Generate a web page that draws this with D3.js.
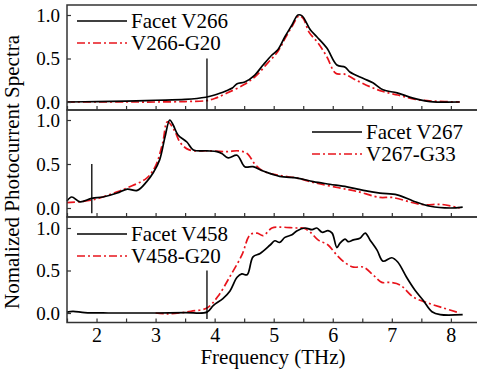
<!DOCTYPE html>
<html>
<head>
<meta charset="utf-8">
<script src="https://cdn.jsdelivr.net/npm/d3@7"></script>
<style>
  body { margin: 0; background: #fff; }
</style>
</head>
<body>
<svg id="chart" width="477" height="375"></svg>
<script>
// frequency (THz), normalized photocurrent
const facetV266 = [[1.5,0.0],[2.0,0.005],[2.5,0.01],[3.0,0.02],[3.5,0.03],[3.85,0.055],[4.0,0.08],[4.2,0.13],[4.3,0.16],[4.38,0.21],[4.51,0.23],[4.68,0.31],[4.82,0.425],[4.97,0.54],[5.07,0.6],[5.19,0.75],[5.31,0.885],[5.41,1.0],[5.48,0.99],[5.62,0.83],[5.73,0.75],[5.9,0.62],[6.07,0.425],[6.21,0.4],[6.29,0.345],[6.52,0.27],[6.68,0.22],[6.85,0.14],[7.09,0.105],[7.36,0.045],[7.65,0.005],[8.15,0.0]];
const v266G20 = [[1.5,0.0],[2.5,0.0],[3.0,0.0],[3.5,0.005],[3.85,0.015],[4.0,0.04],[4.2,0.1],[4.5,0.2],[4.7,0.3],[4.9,0.45],[5.07,0.58],[5.2,0.74],[5.32,0.88],[5.43,0.99],[5.5,0.96],[5.6,0.8],[5.75,0.68],[5.9,0.52],[6.05,0.33],[6.2,0.32],[6.4,0.25],[6.65,0.17],[6.85,0.12],[7.1,0.08],[7.4,0.03],[7.7,0.01],[8.15,0.0]];

const facetV267 = [[1.5,0.08],[1.58,0.125],[1.72,0.07],[1.92,0.11],[2.11,0.125],[2.35,0.17],[2.52,0.215],[2.69,0.2],[2.85,0.3],[2.96,0.4],[3.07,0.55],[3.16,0.81],[3.24,1.0],[3.3,0.94],[3.38,0.83],[3.53,0.75],[3.64,0.66],[3.87,0.65],[4.04,0.64],[4.12,0.62],[4.23,0.57],[4.38,0.6],[4.51,0.47],[4.65,0.47],[4.82,0.42],[5.1,0.36],[5.4,0.34],[5.67,0.3],[5.95,0.27],[6.24,0.24],[6.52,0.2],[6.8,0.17],[7.09,0.15],[7.36,0.08],[7.65,0.02],[7.99,0.0],[8.2,0.01]];
const v267G33 = [[1.5,0.06],[1.92,0.09],[2.35,0.185],[2.52,0.23],[2.85,0.34],[3.0,0.48],[3.12,0.74],[3.2,0.98],[3.32,0.88],[3.42,0.74],[3.57,0.66],[3.9,0.65],[4.2,0.64],[4.4,0.65],[4.55,0.62],[4.68,0.5],[4.82,0.42],[5.1,0.37],[5.4,0.34],[5.67,0.29],[6.1,0.23],[6.4,0.19],[6.8,0.12],[7.0,0.12],[7.5,0.04],[7.85,0.04],[8.15,0.0]];

const facetV458 = [[1.5,0.01],[1.6,0.02],[1.8,0.005],[2.2,0.0],[2.6,0.0],[3.0,0.0],[3.5,0.005],[3.87,0.01],[3.98,0.09],[4.14,0.17],[4.26,0.26],[4.38,0.42],[4.46,0.46],[4.55,0.45],[4.65,0.66],[4.77,0.7],[4.94,0.8],[5.02,0.85],[5.1,0.83],[5.19,0.89],[5.31,0.92],[5.39,0.965],[5.53,1.0],[5.65,0.98],[5.73,1.0],[5.82,0.95],[5.92,0.97],[5.99,0.94],[6.07,0.77],[6.12,0.82],[6.21,0.87],[6.26,0.84],[6.35,0.86],[6.46,0.88],[6.55,0.94],[6.63,0.86],[6.75,0.74],[6.85,0.61],[7.0,0.65],[7.1,0.6],[7.25,0.42],[7.39,0.27],[7.53,0.15],[7.68,0.015],[7.82,-0.02],[8.2,-0.02]];
const v458G20 = [[3.0,0.0],[3.2,-0.01],[3.4,0.0],[3.6,0.02],[3.87,0.06],[4.05,0.19],[4.26,0.43],[4.46,0.68],[4.6,0.92],[4.72,0.94],[4.82,0.91],[4.97,1.0],[5.1,1.01],[5.39,1.0],[5.5,1.0],[5.62,0.95],[5.75,0.86],[5.92,0.8],[6.07,0.68],[6.21,0.59],[6.35,0.54],[6.52,0.54],[6.68,0.45],[6.83,0.36],[6.97,0.36],[7.14,0.33],[7.36,0.19],[7.6,0.12],[7.87,0.06],[8.15,0.0]];

const legendNames = [['Facet V266', 'V266-G20'], ['Facet V267', 'V267-G33'], ['Facet V458', 'V458-G20']];
// vertical marker: [frequency, top value, bottom value]
const markers = [[3.87, 0.5, -0.09], [1.92, 0.5, -0.06], [3.87, 0.5, -0.07]];
const xTicks = [2, 3, 4, 5, 6, 7, 8];
const yTicks = [0, 0.5, 1.0];

const panels = [
  { black: facetV266, red: v266G20, top: 5, bottom: 110, y0: 102, y1: 15, legend: { x: 77, y: 21 } },
  { black: facetV267, red: v267G33, top: 110, bottom: 217, y0: 208, y1: 120, legend: { x: 312, y: 132 } },
  { black: facetV458, red: v458G20, top: 217, bottom: 322.5, y0: 313, y1: 228, legend: { x: 77, y: 234 } },
];

const svg = d3.select('#chart');
const left = 67;
const x = d3.scaleLinear().domain([1.5, 8.5]).range([left, 480.4]);
const frameColor = '#333';
const red = '#e8141c';
const dashRed = '8,3,2,3';

panels.forEach((p, i) => {
  // y scale defined by the pixel positions of 0 and 1
  const k = p.y0 - p.y1;
  const y = d3.scaleLinear()
    .domain([(p.y0 - p.bottom) / k, (p.y0 - p.top) / k])
    .range([p.bottom, p.top]);

  const g = svg.append('g');

  const line = d3.line()
    .x(d => x(d[0]))
    .y(d => y(d[1]))
    .curve(d3.curveCatmullRom.alpha(0.5));

  g.append('path')
    .attr('d', line(p.red))
    .attr('fill', 'none')
    .attr('stroke', red)
    .attr('stroke-width', 1.7)
    .attr('stroke-dasharray', dashRed);

  g.append('path')
    .attr('d', line(p.black))
    .attr('fill', 'none')
    .attr('stroke', '#000')
    .attr('stroke-width', 1.7);

  const m = markers[i];
  g.append('line')
    .attr('x1', x(m[0])).attr('x2', x(m[0]))
    .attr('y1', y(m[1])).attr('y2', y(m[2]))
    .attr('stroke', '#000')
    .attr('stroke-width', 1.3);

  // x ticks, inward
  const xAxis = d3.axisBottom(x)
    .tickValues(d3.range(1.5, 8.51, 0.5))
    .tickSize(-4)
    .tickFormat(d => (i === 2 && xTicks.includes(d) ? d : ''))
    .tickPadding(5);
  const xg = g.append('g')
    .attr('transform', `translate(0,${p.bottom})`)
    .call(xAxis);
  xg.select('.domain').remove();
  xg.selectAll('line').attr('stroke', frameColor).attr('stroke-width', 1.2);
  xg.selectAll('text').style('font-size', '20px');

  const yAxis = d3.axisLeft(y)
    .tickValues(yTicks)
    .tickSize(-4)
    .tickFormat(d3.format('.1f'))
    .tickPadding(7);
  const yg = g.append('g')
    .attr('transform', `translate(${left},0)`)
    .call(yAxis);
  yg.select('.domain').remove();
  yg.selectAll('line').attr('stroke', frameColor).attr('stroke-width', 1.2);
  yg.selectAll('text').style('font-size', '19px');

  // frame
  g.append('rect')
    .attr('x', left)
    .attr('y', p.top)
    .attr('width', 480 - left)
    .attr('height', p.bottom - p.top)
    .attr('fill', 'none')
    .attr('stroke', frameColor)
    .attr('stroke-width', 1.5);

  // legend
  const lg = g.append('g').attr('transform', `translate(${p.legend.x},${p.legend.y})`);
  [['#000', null], [red, dashRed]].forEach((s, j) => {
    lg.append('line')
      .attr('x1', 0).attr('x2', 50)
      .attr('y1', j * 22).attr('y2', j * 22)
      .attr('stroke', s[0])
      .attr('stroke-width', 1.7)
      .attr('stroke-dasharray', s[1]);
    lg.append('text')
      .attr('x', 54)
      .attr('y', j * 22 + 7)
      .style('font-size', '21px')
      .text(legendNames[i][j]);
  });
});

svg.append('text')
  .attr('x', 273)
  .attr('y', 364)
  .attr('text-anchor', 'middle')
  .style('font-size', '21px')
  .text('Frequency (THz)');

svg.append('text')
  .attr('transform', 'translate(19,172) rotate(-90)')
  .attr('text-anchor', 'middle')
  .style('font-size', '21px')
  .text('Nomalized Photocurrent Spectra');

svg.selectAll('text')
  .style('font-family', 'Liberation Serif')
  .attr('fill', '#000');
</script>
</body>
</html>
